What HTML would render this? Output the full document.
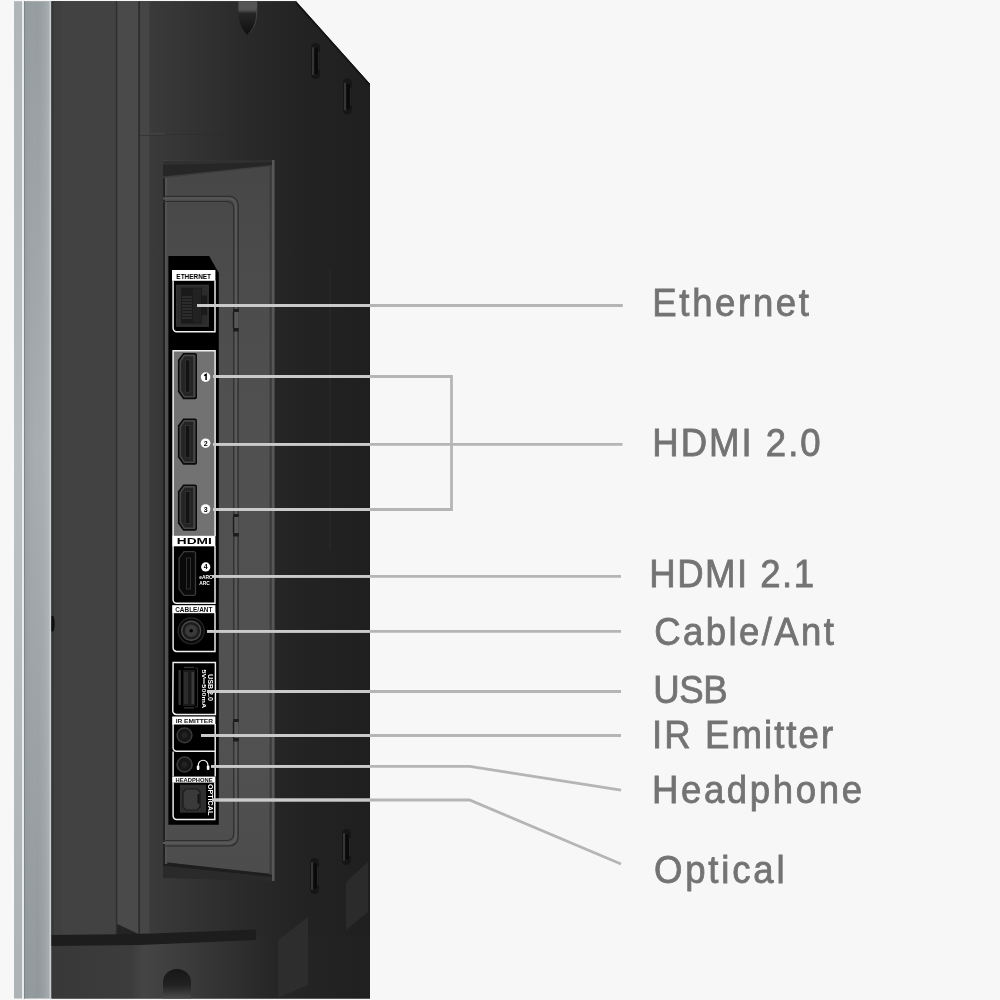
<!DOCTYPE html>
<html><head><meta charset="utf-8">
<style>
html,body{margin:0;padding:0;background:#f7f7f7;width:1000px;height:1000px;overflow:hidden;}
svg{display:block;}
text{font-family:"Liberation Sans",sans-serif;}
</style></head>
<body>
<svg width="1000" height="1000" viewBox="0 0 1000 1000">
<defs>
  <linearGradient id="silverV" x1="0" y1="0" x2="0" y2="1">
    <stop offset="0" stop-color="#959c9f"/>
    <stop offset="0.45" stop-color="#a7adb0"/>
    <stop offset="1" stop-color="#91989b"/>
  </linearGradient>
  <linearGradient id="silverH" gradientUnits="userSpaceOnUse" x1="25" y1="0" x2="50" y2="0">
    <stop offset="0" stop-color="#8f979a" stop-opacity="0.5"/>
    <stop offset="0.5" stop-color="#a7adb0" stop-opacity="0"/>
    <stop offset="1" stop-color="#bfc4c6" stop-opacity="0.5"/>
  </linearGradient>
  <linearGradient id="silverV2" x1="0" y1="0" x2="0" y2="1">
    <stop offset="0" stop-color="#b0b5b7"/>
    <stop offset="0.45" stop-color="#bcc2c4"/>
    <stop offset="1" stop-color="#adb3b5"/>
  </linearGradient>
  <linearGradient id="bodyH" gradientUnits="userSpaceOnUse" x1="139" y1="0" x2="370" y2="0">
    <stop offset="0" stop-color="#3c3c3c"/>
    <stop offset="0.11" stop-color="#383838"/>
    <stop offset="0.26" stop-color="#323232"/>
    <stop offset="0.48" stop-color="#292929"/>
    <stop offset="0.7" stop-color="#232323"/>
    <stop offset="1" stop-color="#1f1f1f"/>
  </linearGradient>
  <linearGradient id="botH" gradientUnits="userSpaceOnUse" x1="51" y1="0" x2="370" y2="0">
    <stop offset="0" stop-color="#383838"/>
    <stop offset="0.25" stop-color="#3c3c3c"/>
    <stop offset="0.29" stop-color="#454545"/>
    <stop offset="0.45" stop-color="#393939"/>
    <stop offset="0.7" stop-color="#262626"/>
    <stop offset="1" stop-color="#202020"/>
  </linearGradient>
  <linearGradient id="slotG" gradientUnits="userSpaceOnUse" x1="0" y1="1" x2="0" y2="35">
    <stop offset="0" stop-color="#555"/>
    <stop offset="0.24" stop-color="#555"/>
    <stop offset="0.3" stop-color="#444"/>
    <stop offset="0.36" stop-color="#262626"/>
    <stop offset="1" stop-color="#0e0e0e"/>
  </linearGradient>
  <linearGradient id="holeG" x1="0" y1="0" x2="0" y2="1">
    <stop offset="0" stop-color="#161616"/>
    <stop offset="0.55" stop-color="#222"/>
    <stop offset="1" stop-color="#4a4a4a"/>
  </linearGradient>
  <linearGradient id="recessV" gradientUnits="userSpaceOnUse" x1="0" y1="170" x2="0" y2="880">
    <stop offset="0" stop-color="#474747"/>
    <stop offset="0.1" stop-color="#4a4a4a"/>
    <stop offset="0.33" stop-color="#505050"/>
    <stop offset="0.8" stop-color="#515151"/>
    <stop offset="1" stop-color="#4c4c4c"/>
  </linearGradient>
</defs>

<!-- background -->
<rect x="0" y="0" width="1000" height="1000" fill="#f7f7f7"/>

<!-- silver frame strips -->
<rect x="14" y="1.2" width="8" height="997.3" fill="url(#silverV2)"/>
<rect x="22" y="1.2" width="2" height="997.3" fill="#e6ecee"/>
<rect x="24" y="1.2" width="27" height="997.3" fill="url(#silverV)"/>
<rect x="24" y="1.2" width="27" height="997.3" fill="url(#silverH)"/>
<rect x="24" y="1.2" width="1" height="997.3" fill="#7e8689"/>
<rect x="49.5" y="1.2" width="2" height="997.3" fill="#c8cdce"/>

<!-- main dark body base -->
<polygon points="51.5,1.2 296,1.2 370,84 370,998.5 51.5,998.5" fill="#232323"/>
<!-- left panel -->
<rect x="51.5" y="1.2" width="65.5" height="935" fill="#424242"/>
<rect x="51.5" y="1.2" width="2.5" height="935" fill="#35393a"/>
<rect x="54" y="1.2" width="8" height="935" fill="#3f3f3f"/>
<path d="M51.5,616 h1.5 a1.6,7.7 0 0 1 0,15.4 h-1.5 Z" fill="#0e0e0e"/>
<!-- strip 117-139 -->
<rect x="115.8" y="1.2" width="1.4" height="935" fill="#2f2f2f"/>
<polygon points="117.2,1.2 138.6,1.2 138.6,934 117.2,924" fill="#4a4a4a"/>
<rect x="138.6" y="1.2" width="1.4" height="935" fill="#2b2b2b"/>
<!-- right body region -->
<polygon points="140,1.2 296,1.2 370,84 370,936 140,936" fill="url(#bodyH)"/>
<rect x="140" y="1.2" width="9.5" height="932" fill="#454545"/>
<line x1="140" y1="134" x2="165" y2="134" stroke="#505050" stroke-width="0.8"/><line x1="140" y1="135.2" x2="165" y2="135.2" stroke="#2e2e2e" stroke-width="0.8"/><line x1="165" y1="134.5" x2="260" y2="134.5" stroke="#2a2a2a" stroke-width="0.8" opacity="0.5"/>

<!-- bottom section -->
<rect x="51.5" y="936" width="318.5" height="62.5" fill="url(#botH)"/>
<polygon points="51.5,935 140,934 256,929.5 256,940 140,945 51.5,946" fill="#1d1d1d"/>
<path d="M163,998.5 V982 a14,13 0 0 1 28,0 V998.5 Z" fill="url(#holeG)"/>
<polygon points="278,940 308,917 308,985 278,998" fill="#2d2d2d"/>
<polygon points="346,882 368,862 368,912 346,930" fill="#2b2b2b"/>

<!-- top slot & screws -->
<path d="M238.4,1.2 H257.2 V13 C257.2,23 252.5,31.5 247.8,35.2 C243,31.5 238.4,23 238.4,13 Z" fill="url(#slotG)"/>
<path d="M256.6,8 V14 C256.6,23 252.3,31 247.8,34.5" fill="none" stroke="#4a4a4a" stroke-width="0.9"/>
<g id="screw">
<rect x="311" y="43" width="9" height="36" rx="4.5" fill="#161616"/>
<rect x="312" y="47" width="2" height="28" rx="1" fill="#353535"/>
<rect x="314.5" y="48" width="3.5" height="26" rx="1.7" fill="#0a0a0a"/>
<rect x="318.3" y="52" width="1" height="18" fill="#2e2e2e"/>
</g>
<use href="#screw" x="32" y="35.5"/>
<use href="#screw" x="-1" y="815"/>
<use href="#screw" x="31" y="786"/>
<polygon points="296,1.2 370,84 370,86.5 296,3.7" fill="#141414"/>
<line x1="330" y1="270" x2="330" y2="550" stroke="#2c2c2c" stroke-width="1"/>

<!-- recessed panel -->
<polygon points="163,160.5 272.5,160 272.5,876 163,862" fill="url(#recessV)"/>
<polygon points="163,161 272.5,160 272.5,166.5 163,178.5" fill="#262626"/>
<polygon points="163,161 272.5,160 272.5,162 163,165" fill="#303030"/>
<polygon points="163,176.5 272.5,165 272.5,167 163,179" fill="#555" opacity="0.5"/>
<polygon points="163,862 272.5,874 272.5,877 163,866" fill="#1e1e1e"/>
<polygon points="163,866 272.5,877 272.5,881 163,878" fill="#2a2a2a"/>
<rect x="269.6" y="166" width="2" height="709" fill="#3a3a3a"/>
<rect x="272" y="160" width="2.6" height="721" fill="#575757"/>
<rect x="163" y="178" width="2" height="686" fill="#222"/>
<rect x="165" y="178" width="2.2" height="686" fill="#525252"/>
<path d="M163,196.3 H229.6 a8.5,8.5 0 0 1 8.5,8.5 V837.5 a8.5,8.5 0 0 1 -8.5,8.5 H163" fill="none" stroke="#2a2a2a" stroke-width="1.1"/>
<path d="M163,198.5 H229 a7,7 0 0 1 7,7 V836 a7,7 0 0 1 -7,7 H163" fill="none" stroke="#585858" stroke-width="2"/>
<path d="M163,201.5 H227.2 a6.5,6.5 0 0 1 6.5,6.5 V834 a6.5,6.5 0 0 1 -6.5,6.5 H163" fill="none" stroke="#2e2e2e" stroke-width="1.1"/>
<g id="notch"><rect x="233.2" y="309" width="5.5" height="3" fill="#1c1c1c"/><rect x="234.2" y="312" width="4.3" height="16" fill="#575757"/><rect x="232.8" y="312" width="1.4" height="16" fill="#1c1c1c"/><rect x="233.2" y="328" width="5.5" height="3.5" fill="#1c1c1c"/></g>
<use href="#notch" y="205"/>
<use href="#notch" y="410"/>

<g style="filter:grayscale(1)">
<!-- port strip black -->
<polygon points="168.4,256 209.2,256 218.8,273 218.8,824.8 168.4,824.8" fill="#000"/>

<!-- ETHERNET -->
<rect x="172" y="270" width="43.4" height="10.8" fill="#fff"/>
<text style="opacity:0.99" x="193.7" y="278.6" font-size="6.8" font-weight="bold" text-anchor="middle" fill="#000" textLength="34.7" lengthAdjust="spacingAndGlyphs">ETHERNET</text>
<path d="M173.1,280.5 V328.3 a3.5,3.5 0 0 0 3.5,3.5 H215 V280.5" fill="none" stroke="#f0f0f0" stroke-width="1.45"/>
<rect x="176" y="284.6" width="33" height="42.3" fill="#2b2b2b"/>
<rect x="177" y="285.5" width="31" height="40.5" fill="none" stroke="#333" stroke-width="1"/>
<path d="M181.2,287.7 H201.9 V295.4 H207.1 V315 H201.9 V323.4 H181.2 Z" fill="#1a1a1a"/>
<rect x="193" y="288.5" width="8" height="34" fill="#222"/>
<g stroke="#3c3c3c" stroke-width="1">
<line x1="182" y1="297" x2="192" y2="297"/><line x1="182" y1="300" x2="192" y2="300"/>
<line x1="182" y1="303" x2="192" y2="303"/><line x1="182" y1="306" x2="192" y2="306"/>
<line x1="182" y1="309" x2="192" y2="309"/><line x1="182" y1="312" x2="192" y2="312"/>
<line x1="182" y1="315" x2="192" y2="315"/><line x1="182" y1="318" x2="192" y2="318"/>
</g>

<!-- HDMI group -->
<rect x="172.8" y="350.8" width="42.3" height="185" fill="#727272"/>
<path d="M173.1,536 V350.8 H215.1 V536" fill="none" stroke="#f0f0f0" stroke-width="1.45"/>
<g id="hdmiPort">
<path d="M183.2,353 H195 a2,2 0 0 1 2,2 V397.2 a2,2 0 0 1 -2,2 H183.2 L177.9,391.7 V360 Z" fill="#0a0a0a"/>
<path d="M183.9,354.6 H194.3 a1.2,1.2 0 0 1 1.2,1.2 V396.4 a1.2,1.2 0 0 1 -1.2,1.2 H183.9 L179.5,391 V360.8 Z" fill="#454545"/>
<path d="M184.6,356.3 H193.2 V395.9 H184.6 L181.1,390.3 V361.6 Z" fill="#242424"/>
<rect x="185.3" y="359.9" width="4.6" height="32.3" fill="#121212" stroke="#3a3a3a" stroke-width="0.7"/>
</g>
<use href="#hdmiPort" y="65.5"/>
<use href="#hdmiPort" y="131.5"/>
<g fill="#fff"><circle cx="205.6" cy="377.1" r="4.8"/><circle cx="205.6" cy="443.2" r="4.8"/><circle cx="205.6" cy="509" r="4.8"/></g>
<g font-size="7" font-weight="bold" fill="#000" text-anchor="middle">
<text x="205.6" y="445.7">2</text><text x="205.6" y="511.5">3</text>
</g>

<path d="M204.2,375.7 L206.1,374.4 V380" fill="none" stroke="#000" stroke-width="1.5"/>
<!-- HDMI logo band -->
<rect x="172.2" y="535.7" width="43.2" height="10.6" fill="#fff"/>
<text x="194.3" y="544.4" font-size="8.2" font-weight="bold" text-anchor="middle" fill="#000" textLength="35" lengthAdjust="spacingAndGlyphs">HDMI</text>

<!-- HDMI4 box -->
<path d="M173.1,546 V599.8 a3.5,3.5 0 0 0 3.5,3.5 H215 V546" fill="none" stroke="#f0f0f0" stroke-width="1.45"/>
<path d="M184,551.7 H194 a1.5,1.5 0 0 1 1.5,1.5 V593.8 a1.5,1.5 0 0 1 -1.5,1.5 H184 L179.1,589 V558 Z" fill="#0a0a0a" stroke="#3a3a3a" stroke-width="1.3"/>
<rect x="186.5" y="558" width="4" height="31" fill="none" stroke="#2e2e2e" stroke-width="1"/>
<circle cx="205.7" cy="566.9" r="4.6" fill="#fff"/>
<text x="205.7" y="569.4" font-size="7" font-weight="bold" fill="#000" text-anchor="middle">4</text>
<text x="199.2" y="578.8" font-size="4.6" font-weight="bold" fill="#fff" textLength="13.4" lengthAdjust="spacingAndGlyphs">eARC</text>
<text x="199.2" y="584.9" font-size="4.6" font-weight="bold" fill="#fff" textLength="10.6" lengthAdjust="spacingAndGlyphs">ARC</text>

<!-- CABLE/ANT -->
<rect x="172.2" y="605.2" width="43.2" height="8" fill="#fff"/>
<text x="175.2" y="611.7" font-size="6.8" font-weight="bold" fill="#111" textLength="37.2" lengthAdjust="spacingAndGlyphs">CABLE/ANT</text>
<path d="M173.1,612.8 V647.9 a3.5,3.5 0 0 0 3.5,3.5 H215 V612.8" fill="none" stroke="#f0f0f0" stroke-width="1.45"/>
<circle cx="191.2" cy="630.8" r="14" fill="#0a0a0a"/>
<circle cx="191.2" cy="630.8" r="13" fill="none" stroke="#262626" stroke-width="1.2"/>
<circle cx="191.2" cy="630.8" r="9.5" fill="#1c1c1c" stroke="#4a4a4a" stroke-width="1.4"/>
<circle cx="191.2" cy="630.8" r="6.3" fill="#3a3a3a" stroke="#2a2a2a" stroke-width="0.8"/>
<circle cx="191.2" cy="630.8" r="1.8" fill="#000"/>

<!-- USB -->
<path d="M173.1,662.5 H215.4 V714.4 H176.3 a3.5,3.5 0 0 1 -3.5,-3.5 Z" fill="none" stroke="#f0f0f0" stroke-width="1.45"/>
<rect x="178.5" y="670" width="2.4" height="35" fill="#333"/>
<rect x="183" y="670" width="12" height="36" fill="#1a1a1a"/>
<rect x="184" y="672" width="4" height="32" fill="#2c2c2c"/>
<rect x="191.5" y="672" width="2.5" height="32" fill="#3a3a3a"/>
<rect x="184" y="666.8" width="10" height="1.3" fill="#333"/>
<rect x="184" y="707.2" width="10" height="1.3" fill="#333"/>
<path d="M195,668 H197.5 V707 H195" fill="none" stroke="#2e2e2e" stroke-width="1"/>
<g transform="translate(208.3,674) rotate(90)" font-weight="bold" fill="#fff">
<text x="0" y="0" font-size="7.2" textLength="27" lengthAdjust="spacingAndGlyphs">USB 2.0</text>
</g>
<g transform="translate(202,669.4) rotate(90)" font-weight="bold" fill="#fff">
<text x="0" y="0" font-size="6.2" textLength="39" lengthAdjust="spacingAndGlyphs">5V&#x2393;500mA</text>
</g>

<!-- IR EMITTER -->
<rect x="172.2" y="716.5" width="43.2" height="8" fill="#fff"/>
<text x="175.7" y="722.8" font-size="6" font-weight="bold" fill="#111" textLength="37.3" lengthAdjust="spacingAndGlyphs">IR EMITTER</text>
<path d="M173.1,724 V747.8 a3.5,3.5 0 0 0 3.5,3.5 H215.2 V724" fill="none" stroke="#f0f0f0" stroke-width="1.45"/>
<circle cx="184.5" cy="735.3" r="7.4" fill="#161616" stroke="#3a3a3a" stroke-width="1.5"/>
<circle cx="184.5" cy="735.3" r="3" fill="#222"/>

<!-- HEADPHONE -->
<path d="M173.1,751.5 V776.6 M215.2,751.5 V776.6" fill="none" stroke="#f0f0f0" stroke-width="1.45"/>
<circle cx="184.6" cy="764.5" r="7.5" fill="#161616" stroke="#3a3a3a" stroke-width="1.6"/>
<circle cx="184.6" cy="764.5" r="3" fill="#222"/>
<path d="M198.3,768 V765 a4.8,4.8 0 0 1 9.6,0 V768" fill="none" stroke="#fff" stroke-width="1.1"/>
<rect x="196.8" y="765.6" width="2.6" height="4.4" rx="1" fill="#fff"/>
<rect x="206.8" y="765.6" width="2.6" height="4.4" rx="1" fill="#fff"/>
<rect x="172.2" y="776.6" width="43.2" height="6" fill="#fff"/>
<text x="175.5" y="782" font-size="5.6" font-weight="bold" fill="#111" textLength="37" lengthAdjust="spacingAndGlyphs">HEADPHONE</text>

<!-- OPTICAL -->
<path d="M173.1,782.6 V816 a3.5,3.5 0 0 0 3.5,3.5 H214.8 V782.6" fill="none" stroke="#f0f0f0" stroke-width="1.45"/>
<rect x="179.9" y="784.7" width="26.2" height="28" fill="#2e2e2e"/>
<path d="M186,789 H197 l3,3 V807 l-3,3 H186 l-3,-3 V792 Z" fill="#3a3a3a" stroke="#1a1a1a" stroke-width="1.2"/>
<rect x="197.6" y="794" width="1.8" height="9.5" fill="#111"/>
<g transform="translate(207.9,783.9) rotate(90)"><text x="0" y="0" font-size="6.9" font-weight="bold" fill="#fff" textLength="31.4" lengthAdjust="spacingAndGlyphs">OPTICAL</text></g>

</g>
<!-- leader lines -->
<clipPath id="onBody"><rect x="0" y="0" width="370" height="1000"/></clipPath>
<defs><g id="leaders">
  <path d="M197,305.5 H622.8"/>
  <path d="M213,376.5 H451.5 V509.5 H213"/>
  <path d="M213,444.3 H622.5"/>
  <path d="M212,576.4 H621"/>
  <path d="M207,631.4 H621"/>
  <path d="M207,691.5 H621"/>
  <path d="M201,735.5 H621"/>
  <path d="M211,766.3 H469.8 L621,790.2"/>
  <path d="M212,800 H469.6 L621,864"/>
</g></defs>
<use href="#leaders" stroke="#b5b5b5" stroke-width="2.8" fill="none"/>
<use href="#leaders" clip-path="url(#onBody)" stroke="#cacaca" stroke-width="2.8" fill="none"/>

<!-- labels -->
<g fill="#737373" stroke="#737373" stroke-width="0.8" font-size="38.5" style="opacity:0.999">
  <text letter-spacing="2.782" transform="translate(652.30,316) scale(0.95,1)">Ethernet</text>
  <text letter-spacing="2.105" transform="translate(652.30,456) scale(0.95,1)">HDMI 2.0</text>
  <text letter-spacing="1.564" transform="translate(649.30,587) scale(0.95,1)">HDMI 2.1</text>
  <text letter-spacing="2.513" transform="translate(654.30,644.5) scale(0.95,1)">Cable/Ant</text>
  <text letter-spacing="-0.474" transform="translate(653.30,703) scale(0.95,1)">USB</text>
  <text letter-spacing="2.187" transform="translate(652.00,747.5) scale(0.95,1)">IR Emitter</text>
  <text letter-spacing="2.776" transform="translate(651.90,803) scale(0.95,1)">Headphone</text>
  <text letter-spacing="2.965" transform="translate(653.90,883) scale(0.95,1)">Optical</text>
</g>
</svg>
</body></html>
